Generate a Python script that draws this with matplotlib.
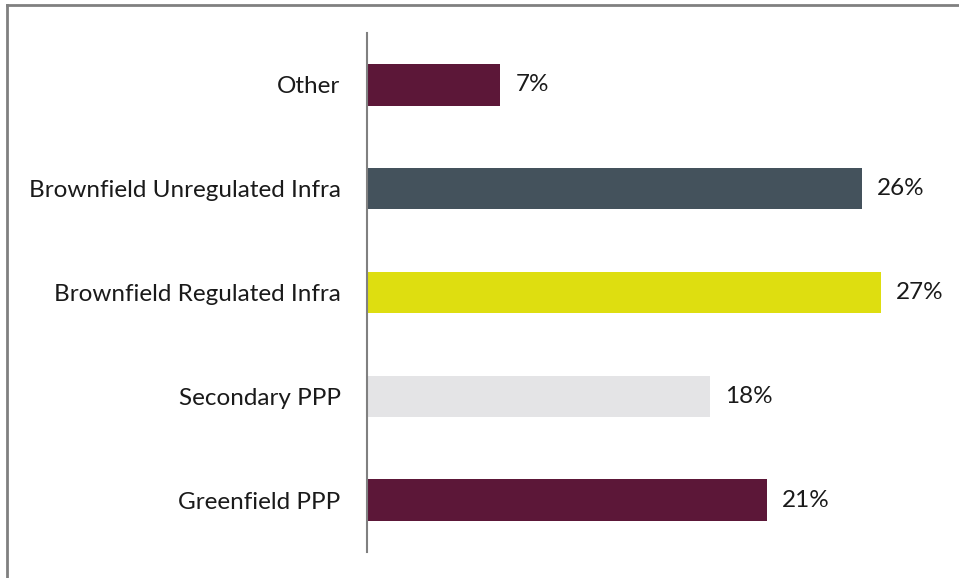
import matplotlib.pyplot as plt
from matplotlib.lines import Line2D

categories = ["Greenfield PPP", "Secondary PPP", "Brownfield Regulated Infra",
              "Brownfield Unregulated Infra", "Other"]
values = [21, 18, 27, 26, 7]
colors = ["#5C1738", "#E4E4E6", "#DEDE10", "#44525C", "#5C1738"]

W, H = 959, 578
fig = plt.figure(figsize=(W / 100, H / 100), dpi=100)
ax = fig.add_axes([367 / W, 1 - 552 / H, 1 - 367 / W, (552 - 33) / H])

y = range(len(categories))
ax.barh(y, values, height=0.4, color=colors)
for yi, v in zip(y, values):
    ax.annotate(f"{v}%", (v, yi), xytext=(11, 0), textcoords="offset points",
                va="center", ha="left", fontsize=17.5, family="Lato", color="#1a1a1a")

ax.set_xlim(0, 31.1)
ax.set_ylim(-0.5, 4.5)
ax.set_yticks(list(y))
ax.set_yticklabels(categories, fontsize=17.5, family="Lato", color="#1a1a1a")
ax.tick_params(axis="y", length=0, pad=19)
ax.set_xticks([])
for s in ["top", "right", "bottom"]:
    ax.spines[s].set_visible(False)
ax.spines["left"].set_color("#808080")
ax.spines["left"].set_linewidth(1.5)

# outer frame (top and left edges)
fig.add_artist(Line2D([7 / W, 1], [1 - 5 / H, 1 - 5 / H], color="#808080", lw=2))
fig.add_artist(Line2D([7 / W, 7 / W], [0, 1 - 5 / H], color="#808080", lw=2))

fig.savefig("out.png", dpi=100)
